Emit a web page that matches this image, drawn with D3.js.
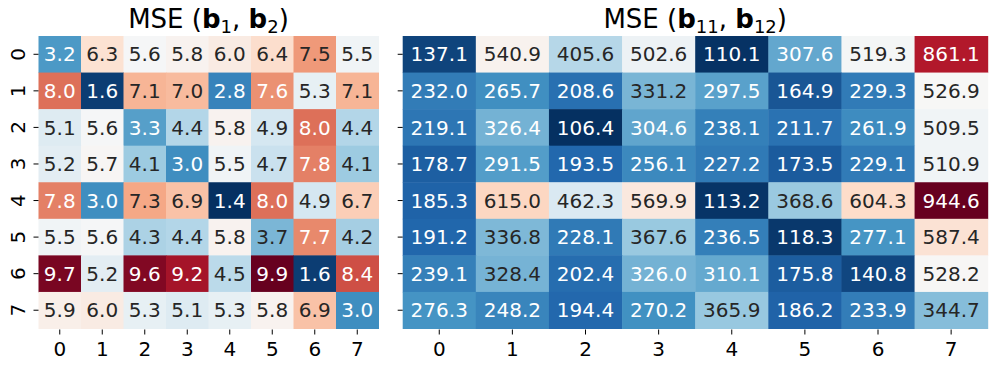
<!DOCTYPE html>
<html>
<head>
<meta charset="utf-8">
<script src="https://cdn.jsdelivr.net/npm/d3@7"></script>
<style>
  body { margin: 0; background: #fff; }
  svg { font-family: "DejaVu Sans", sans-serif; }
</style>
</head>
<body>
<svg width="997" height="369"></svg>
<script>
    // tick labels
    const rows = ['0', '1', '2', '3', '4', '5', '6', '7'];
    const cols = ['0', '1', '2', '3', '4', '5', '6', '7'];

    // values of the left map, MSE (b1, b2)
    const mseB1B2 = [
      [3.2, 6.3, 5.6, 5.8, 6.0, 6.4, 7.5, 5.5],
      [8.0, 1.6, 7.1, 7.0, 2.8, 7.6, 5.3, 7.1],
      [5.1, 5.6, 3.3, 4.4, 5.8, 4.9, 8.0, 4.4],
      [5.2, 5.7, 4.1, 3.0, 5.5, 4.7, 7.8, 4.1],
      [7.8, 3.0, 7.3, 6.9, 1.4, 8.0, 4.9, 6.7],
      [5.5, 5.6, 4.3, 4.4, 5.8, 3.7, 7.7, 4.2],
      [9.7, 5.2, 9.6, 9.2, 4.5, 9.9, 1.6, 8.4],
      [5.9, 6.0, 5.3, 5.1, 5.3, 5.8, 6.9, 3.0]
    ];

    // values of the right map, MSE (b11, b12)
    const mseB11B12 = [
      [137.1, 540.9, 405.6, 502.6, 110.1, 307.6, 519.3, 861.1],
      [232.0, 265.7, 208.6, 331.2, 297.5, 164.9, 229.3, 526.9],
      [219.1, 326.4, 106.4, 304.6, 238.1, 211.7, 261.9, 509.5],
      [178.7, 291.5, 193.5, 256.1, 227.2, 173.5, 229.1, 510.9],
      [185.3, 615.0, 462.3, 569.9, 113.2, 368.6, 604.3, 944.6],
      [191.2, 336.8, 228.1, 367.6, 236.5, 118.3, 277.1, 587.4],
      [239.1, 328.4, 202.4, 326.0, 310.1, 175.8, 140.8, 528.2],
      [276.3, 248.2, 194.4, 270.2, 365.9, 186.2, 233.9, 344.7]
    ];

    const svg = d3.select('svg');

    // RdBu_r, same 11 anchor colours as matplotlib
    const rdbuR = d3.schemeRdBu[11].slice().reverse();

    function luminance(c) {
      const rgb = d3.rgb(c);
      const lin = [rgb.r, rgb.g, rgb.b].map(function(v) {
        v = v / 255;
        return v <= 0.03928 ? v / 12.92 : Math.pow((v + 0.055) / 1.055, 2.4);
      });
      return 0.2126 * lin[0] + 0.7152 * lin[1] + 0.0722 * lin[2];
    }

    function drawMap(data, box, title, showRowLabels) {
      const g = svg.append('g')
        .attr('transform', 'translate(' + box.x + ',' + box.y + ')');

      const xScale = d3.scaleBand().domain(cols).range([0, box.w]);
      const yScale = d3.scaleBand().domain(rows).range([0, box.h]);

      const flat = d3.merge(data);
      const lo = d3.min(flat), hi = d3.max(flat);
      const color = d3.scaleLinear()
        .domain(d3.range(11).map(function(i) { return lo + (hi - lo) * i / 10; }))
        .range(rdbuR);

      const cells = [];
      data.forEach(function(row, i) {
        row.forEach(function(v, j) { cells.push({ r: rows[i], c: cols[j], v: v }); });
      });

      g.selectAll('rect.cell').data(cells).enter().append('rect')
        .attr('class', 'cell')
        .attr('x', function(d) { return xScale(d.c); })
        .attr('y', function(d) { return yScale(d.r); })
        .attr('width', xScale.bandwidth() + 0.5)
        .attr('height', yScale.bandwidth() + 0.5)
        .attr('fill', function(d) { return color(d.v); });

      g.selectAll('text.annot').data(cells).enter().append('text')
        .attr('class', 'annot')
        .attr('x', function(d) { return xScale(d.c) + xScale.bandwidth() / 2; })
        .attr('y', function(d) { return yScale(d.r) + yScale.bandwidth() / 2; })
        .attr('dy', '0.36em')
        .attr('text-anchor', 'middle')
        .style('font-size', '20px')
        .attr('fill', function(d) { return luminance(color(d.v)) > 0.408 ? '#262626' : '#ffffff'; })
        .text(function(d) { return d.v.toFixed(1); });

      // axes
      const xAxis = d3.axisBottom(xScale).tickSize(5).tickPadding(7);
      const gX = g.append('g')
        .attr('transform', 'translate(0,' + (box.h + 1) + ')')
        .call(xAxis);
      gX.select('.domain').remove();
      gX.selectAll('.tick line').attr('stroke', '#000').attr('stroke-width', 1);
      gX.selectAll('.tick text')
        .attr('fill', '#000')
        .style('font-size', '20px')
        .style('font-family', '"DejaVu Sans", sans-serif');

      const yAxis = d3.axisLeft(yScale).tickSize(5).tickPadding(6);
      const gY = g.append('g').call(yAxis);
      gY.select('.domain').remove();
      gY.selectAll('.tick line').attr('stroke', '#000').attr('stroke-width', 1);
      if (showRowLabels) {
        gY.selectAll('.tick text')
          .attr('fill', '#000')
          .attr('x', 0).attr('dy', null)
          .attr('text-anchor', 'middle')
          .attr('dominant-baseline', 'central')
          .attr('transform', 'translate(-21,0) rotate(-90)')
          .style('font-size', '20px')
          .style('font-family', '"DejaVu Sans", sans-serif');
      } else {
        gY.selectAll('.tick text').remove();
      }

      // title with bold b and subscripts
      const t = g.append('text')
        .attr('x', box.w / 2)
        .attr('y', -8)
        .attr('text-anchor', 'middle')
        .style('font-size', '26px')
        .attr('fill', '#000');
      t.append('tspan').text('MSE (');
      t.append('tspan').style('font-weight', 'bold').text('b');
      t.append('tspan').attr('dy', 5).style('font-size', '18px').text(title[0]);
      t.append('tspan').attr('dy', -5).text(', ');
      t.append('tspan').style('font-weight', 'bold').text('b');
      t.append('tspan').attr('dy', 5).style('font-size', '18px').text(title[1]);
      t.append('tspan').attr('dy', -5).text(')');
    }

    drawMap(mseB1B2, { x: 38.5, y: 36, w: 340, h: 292.5 }, ['1', '2'], true);
    drawMap(mseB11B12, { x: 402.7, y: 36, w: 585, h: 292.5 }, ['11', '12'], false);
</script>
</body>
</html>
